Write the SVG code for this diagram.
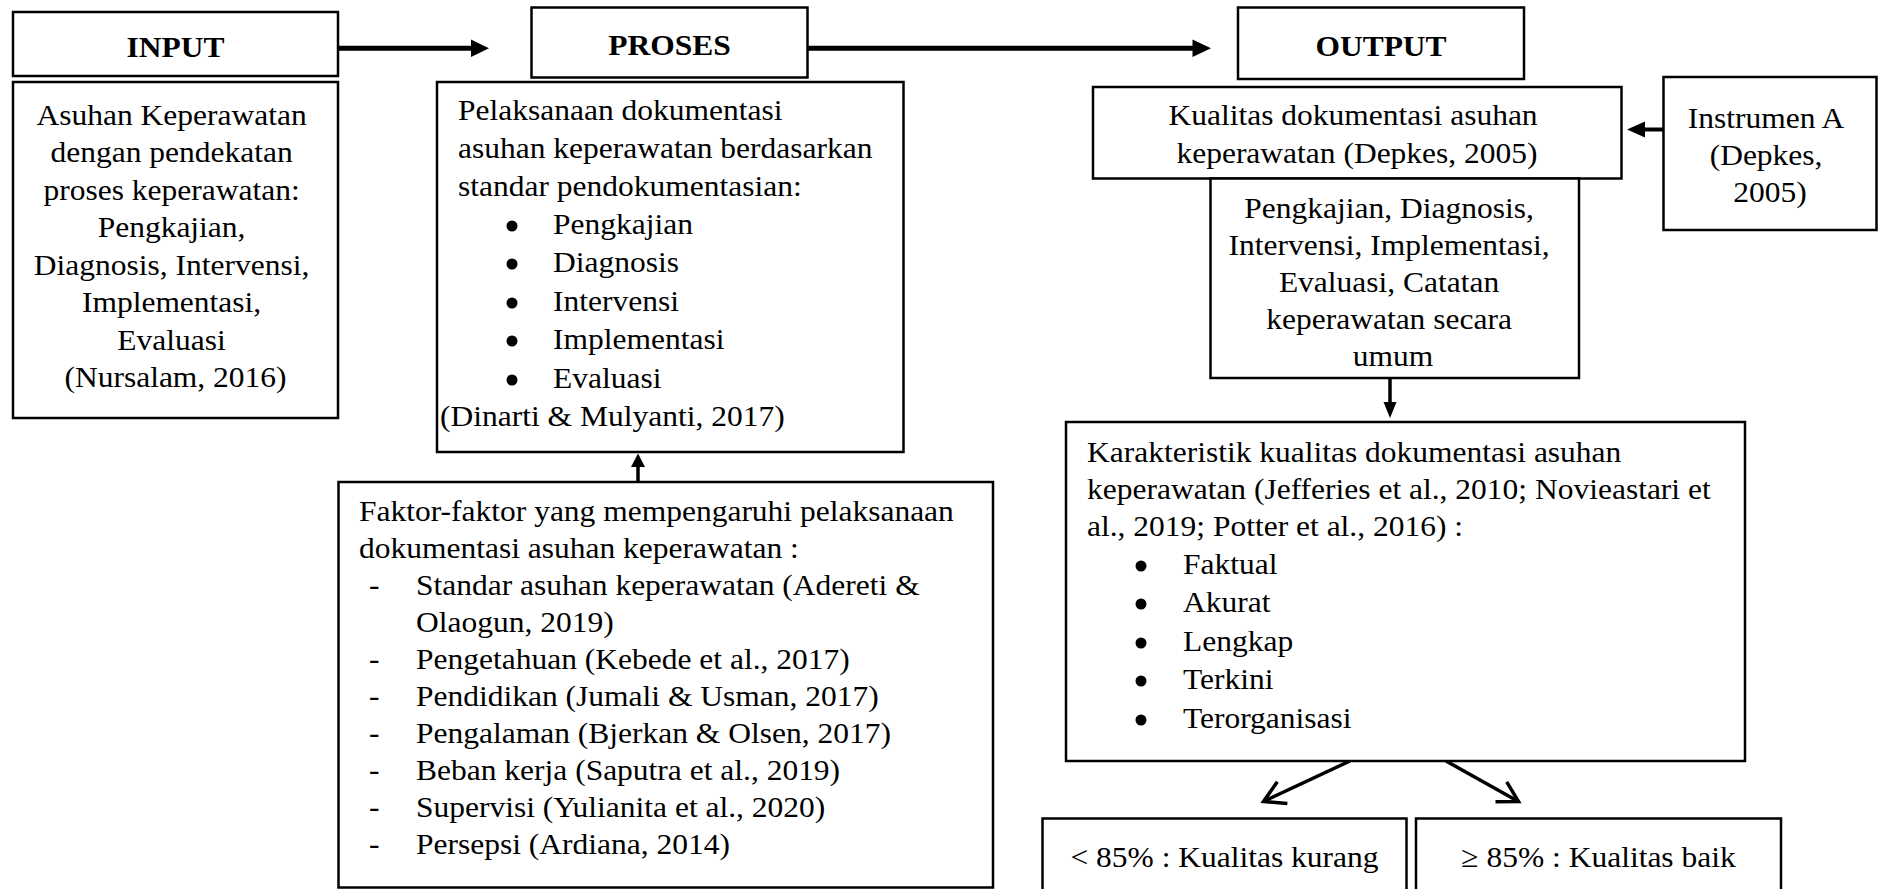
<svg xmlns="http://www.w3.org/2000/svg" width="1883" height="889" viewBox="0 0 1883 889">
<style>
.box{fill:#fff;stroke:#000;stroke-width:2.5}
.t{font-family:"Liberation Serif","Times New Roman",serif;font-size:30px;fill:#000}
.c{text-anchor:middle}
.b{font-weight:bold}
.ln{stroke:#000;fill:none}
.hd{fill:#000;stroke:none}
.bul{fill:#000}
</style>
<rect x="0" y="0" width="1883" height="889" fill="#fff"/>

<g id="connectors">
  <line class="ln" x1="338" y1="48.3" x2="473" y2="48.3" stroke-width="5"/>
  <polygon class="hd" points="471,39.5 489,48.3 471,57"/>
  <line class="ln" x1="807.5" y1="48.3" x2="1194" y2="48.3" stroke-width="5"/>
  <polygon class="hd" points="1192.5,39.5 1211,48.3 1192.5,57"/>
  <line class="ln" x1="638" y1="482" x2="638" y2="464" stroke-width="3.5"/>
  <polygon class="hd" points="631,467 638,453.5 645,467"/>
  <line class="ln" x1="1390" y1="378" x2="1390" y2="404" stroke-width="3.5"/>
  <polygon class="hd" points="1383.5,402 1390,418 1396.5,402"/>
  <line class="ln" x1="1663" y1="129.5" x2="1643" y2="129.5" stroke-width="4"/>
  <polygon class="hd" points="1645,121.5 1627,129.5 1645,137.5"/>
  <line class="ln" x1="1350" y1="761" x2="1264.5" y2="801" stroke-width="3.5"/>
  <polyline class="ln" points="1277.3,781.8 1263.5,801.5 1287.4,803.6" stroke-width="3.5"/>
  <line class="ln" x1="1446" y1="761" x2="1517.5" y2="801" stroke-width="3.5"/>
  <polyline class="ln" points="1506.7,781.8 1518.5,801.5 1495.5,801.8" stroke-width="3.5"/>
</g>

<g id="input-header">
  <rect class="box" x="13" y="12" width="325" height="64"/>
  <text class="t c b" transform="translate(175.5 0) scale(1.05 1)" x="0" y="57">INPUT</text>
</g>

<g id="input-body">
  <rect class="box" x="13" y="82" width="325" height="336"/>
  <text class="t c" transform="translate(175.5 0) scale(1.05 1)">
    <tspan x="0" y="125">Asuhan Keperawatan</tspan>
    <tspan x="0" y="162.5">dengan pendekatan</tspan>
    <tspan x="0" y="200">proses keperawatan:</tspan>
    <tspan x="0" y="237.5">Pengkajian,</tspan>
    <tspan x="0" y="275">Diagnosis, Intervensi,</tspan>
    <tspan x="0" y="312.5">Implementasi,</tspan>
    <tspan x="0" y="350">Evaluasi</tspan>
    <tspan x="0" y="387.5">(Nursalam, 2016)</tspan>
  </text>
</g>

<g id="proses-header">
  <rect class="box" x="531.5" y="7.5" width="276" height="70"/>
  <text class="t c b" transform="translate(669.5 0) scale(1.05 1)" x="0" y="55">PROSES</text>
</g>

<g id="proses-body">
  <rect class="box" x="437" y="82" width="466.5" height="370"/>
  <text class="t" transform="translate(458 0) scale(1.05 1)">
    <tspan x="0" y="120">Pelaksanaan dokumentasi</tspan>
    <tspan x="0" y="158">asuhan keperawatan berdasarkan</tspan>
    <tspan x="0" y="196">standar pendokumentasian:</tspan>
    <tspan x="90.5" y="234">Pengkajian</tspan>
    <tspan x="90.5" y="272">Diagnosis</tspan>
    <tspan x="90.5" y="311">Intervensi</tspan>
    <tspan x="90.5" y="349">Implementasi</tspan>
    <tspan x="90.5" y="388">Evaluasi</tspan>
    <tspan x="-17.1" y="426">(Dinarti &amp; Mulyanti, 2017)</tspan>
  </text>
  <circle class="bul" cx="512" cy="226" r="5.5"/>
  <circle class="bul" cx="512" cy="264" r="5.5"/>
  <circle class="bul" cx="512" cy="303" r="5.5"/>
  <circle class="bul" cx="512" cy="341" r="5.5"/>
  <circle class="bul" cx="512" cy="380" r="5.5"/>
</g>

<g id="faktor">
  <rect class="box" x="338.5" y="482" width="654.5" height="405.5"/>
  <text class="t" transform="translate(359 0) scale(1.05 1)">
    <tspan x="0" y="521">Faktor-faktor yang mempengaruhi pelaksanaan</tspan>
    <tspan x="0" y="558">dokumentasi asuhan keperawatan :</tspan>
    <tspan x="9.5" y="595">-</tspan><tspan x="54.3" y="595">Standar asuhan keperawatan (Adereti &amp;</tspan>
    <tspan x="54.3" y="632">Olaogun, 2019)</tspan>
    <tspan x="9.5" y="669">-</tspan><tspan x="54.3" y="669">Pengetahuan (Kebede et al., 2017)</tspan>
    <tspan x="9.5" y="706">-</tspan><tspan x="54.3" y="706">Pendidikan (Jumali &amp; Usman, 2017)</tspan>
    <tspan x="9.5" y="743">-</tspan><tspan x="54.3" y="743">Pengalaman (Bjerkan &amp; Olsen, 2017)</tspan>
    <tspan x="9.5" y="780">-</tspan><tspan x="54.3" y="780">Beban kerja (Saputra et al., 2019)</tspan>
    <tspan x="9.5" y="817">-</tspan><tspan x="54.3" y="817">Supervisi (Yulianita et al., 2020)</tspan>
    <tspan x="9.5" y="854">-</tspan><tspan x="54.3" y="854">Persepsi (Ardiana, 2014)</tspan>
  </text>
</g>

<g id="output-header">
  <rect class="box" x="1238" y="7.5" width="286" height="71.5"/>
  <text class="t c b" transform="translate(1381 0) scale(1.05 1)" x="0" y="56">OUTPUT</text>
</g>

<g id="kualitas">
  <rect class="box" x="1093" y="87" width="528.5" height="91.5"/>
  <text class="t c" transform="translate(1357 0) scale(1.05 1)">
    <tspan x="0" y="125">Kualitas dokumentasi asuhan</tspan>
    <tspan x="0" y="163">keperawatan (Depkes, 2005)</tspan>
  </text>
</g>

<g id="komponen">
  <rect class="box" x="1210.5" y="178.5" width="368.5" height="199.5"/>
  <text class="t c" transform="translate(1393 0) scale(1.05 1)">
    <tspan x="0" y="218">Pengkajian, Diagnosis,</tspan>
    <tspan x="0" y="255">Intervensi, Implementasi,</tspan>
    <tspan x="0" y="292">Evaluasi, Catatan</tspan>
    <tspan x="0" y="329">keperawatan secara</tspan>
    <tspan x="0" y="366">umum</tspan>
  </text>
</g>

<g id="instrumen">
  <rect class="box" x="1663.5" y="77" width="213" height="153"/>
  <text class="t c" transform="translate(1770 0) scale(1.05 1)">
    <tspan x="0" y="128">Instrumen A</tspan>
    <tspan x="0" y="165">(Depkes,</tspan>
    <tspan x="0" y="202">2005)</tspan>
  </text>
</g>

<g id="karakteristik">
  <rect class="box" x="1066" y="422" width="679" height="339"/>
  <text class="t" transform="translate(1087 0) scale(1.05 1)">
    <tspan x="0" y="462">Karakteristik kualitas dokumentasi asuhan</tspan>
    <tspan x="0" y="499">keperawatan (Jefferies et al., 2010; Novieastari et</tspan>
    <tspan x="0" y="536">al., 2019; Potter et al., 2016) :</tspan>
    <tspan x="91.4" y="574">Faktual</tspan>
    <tspan x="91.4" y="612">Akurat</tspan>
    <tspan x="91.4" y="651">Lengkap</tspan>
    <tspan x="91.4" y="689">Terkini</tspan>
    <tspan x="91.4" y="728">Terorganisasi</tspan>
  </text>
  <circle class="bul" cx="1141" cy="566" r="5.5"/>
  <circle class="bul" cx="1141" cy="604" r="5.5"/>
  <circle class="bul" cx="1141" cy="643" r="5.5"/>
  <circle class="bul" cx="1141" cy="681" r="5.5"/>
  <circle class="bul" cx="1141" cy="720" r="5.5"/>
</g>

<g id="kurang">
  <rect class="box" x="1042.5" y="818.5" width="364" height="80"/>
  <text class="t c" transform="translate(1224.5 0) scale(1.05 1)" x="0" y="867">&lt; 85% : Kualitas kurang</text>
</g>

<g id="baik">
  <rect class="box" x="1416" y="818.5" width="365" height="80"/>
  <text class="t c" transform="translate(1598.5 0) scale(1.05 1)" x="0" y="867">≥ 85% : Kualitas baik</text>
</g>
</svg>
